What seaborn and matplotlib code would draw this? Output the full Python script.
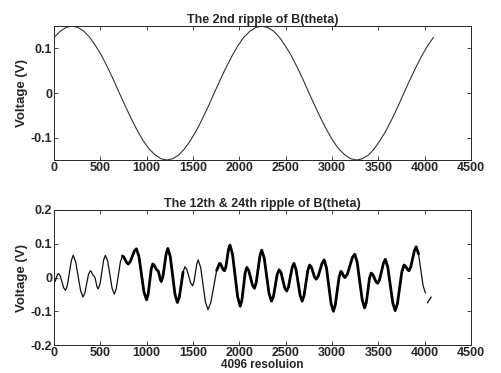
import matplotlib
matplotlib.use('Agg')
import matplotlib.pyplot as plt
import seaborn as sns
import numpy as np

# 2nd ripple, sampled every 64 steps over the 4096 resolution
x_top = list(range(0, 4097, 64))
v_top = [0.125, 0.138, 0.147, 0.150, 0.147, 0.139, 0.125, 0.106, 0.084, 0.058,
         0.030, 0.000, -0.029, -0.057, -0.083, -0.106, -0.125, -0.138, -0.147,
         -0.150, -0.147, -0.139, -0.125, -0.106, -0.084, -0.058, -0.030, 0.000,
         0.029, 0.057, 0.083, 0.106,
         0.125, 0.138, 0.147, 0.150, 0.147, 0.139, 0.125, 0.106, 0.084, 0.058,
         0.030, 0.000, -0.029, -0.057, -0.083, -0.106, -0.125, -0.138, -0.147,
         -0.150, -0.147, -0.139, -0.125, -0.106, -0.084, -0.058, -0.030, 0.000,
         0.029, 0.057, 0.083, 0.106, 0.125]

# 12th & 24th ripple
x_bot = [0, 12, 35, 46, 66, 104, 124, 144, 186, 206, 232, 286, 312, 332, 370,
         390, 400, 420, 430, 442, 464, 476, 496, 534, 554, 578, 626, 650, 672,
         716, 738, 754, 784, 800, 822, 866, 888, 916, 970, 998, 1015, 1048,
         1065, 1079, 1106, 1120, 1129, 1148, 1157, 1175, 1210, 1228, 1254,
         1305, 1331, 1352, 1392, 1413, 1434, 1474, 1495, 1510, 1540, 1555,
         1582, 1634, 1661, 1692, 1755, 1786, 1799, 1826, 1839, 1854, 1884,
         1899, 1926, 1982, 2009, 2027, 2062, 2080, 2101, 2142, 2163, 2182,
         2222, 2241, 2268, 2320, 2347, 2368, 2408, 2429, 2450, 2490, 2511,
         2530, 2570, 2589, 2611, 2656, 2678, 2698, 2739, 2759, 2777, 2812,
         2830, 2851, 2894, 2915, 2940, 2990, 3015, 3035, 3076, 3096, 3107,
         3129, 3140, 3166, 3220, 3246, 3272, 3326, 3352, 3370, 3405, 3423,
         3441, 3476, 3494, 3514, 3556, 3576, 3602, 3656, 3682, 3706, 3754,
         3778, 3791, 3818, 3831, 3850, 3890, 3909, 3934, 3984, 4009]
v_bot = [-0.015, -0.011, 0.008, 0.012, 0.005, -0.031, -0.038, -0.022, 0.050,
         0.066, 0.047, -0.039, -0.058, -0.046, 0.008, 0.020, 0.018, 0.007,
         0.005, -0.001, -0.028, -0.034, -0.019, 0.051, 0.066, 0.049, -0.032,
         -0.049, -0.032, 0.047, 0.064, 0.060, 0.044, 0.040, 0.047, 0.078,
         0.085, 0.062, -0.043, -0.066, -0.050, 0.024, 0.040, 0.037, 0.023,
         0.020, 0.015, -0.007, -0.012, 0.003, 0.071, 0.086, 0.062, -0.050,
         -0.074, -0.058, 0.016, 0.032, 0.023, -0.016, -0.025, -0.013, 0.040,
         0.052, 0.030, -0.073, -0.095, -0.074, 0.021, 0.042, 0.039, 0.023,
         0.020, 0.031, 0.085, 0.096, 0.069, -0.058, -0.085, -0.068, 0.013,
         0.030, 0.021, -0.023, -0.032, -0.015, 0.064, 0.081, 0.058, -0.047,
         -0.070, -0.056, 0.009, 0.023, 0.014, -0.031, -0.040, -0.028, 0.030,
         0.042, 0.025, -0.053, -0.070, -0.054, 0.021, 0.037, 0.031, 0.001,
         -0.005, 0.004, 0.043, 0.052, 0.029, -0.077, -0.100, -0.082, 0.000,
         0.018, 0.015, 0.003, 0.000, 0.010, 0.059, 0.069, 0.045, -0.066,
         -0.090, -0.075, -0.002, 0.013, 0.009, -0.013, -0.017, -0.006, 0.043,
         0.054, 0.031, -0.075, -0.098, -0.078, 0.017, 0.037, 0.034, 0.023,
         0.020, 0.031, 0.080, 0.091, 0.070, -0.025, -0.046]
x_tail = [4030, 4070]
v_tail = [-0.075, -0.058]

sns.set_style('ticks')
plt.rcParams['font.family'] = ['Liberation Sans', 'DejaVu Sans']
plt.rcParams['font.weight'] = 'bold'
plt.rcParams['xtick.direction'] = 'in'
plt.rcParams['ytick.direction'] = 'in'

fig = plt.figure(figsize=(5.01, 3.73), dpi=100)
ax1 = fig.add_axes([0.108, 0.571, 0.832, 0.359])
ax2 = fig.add_axes([0.108, 0.075, 0.832, 0.362])

sns.lineplot(x=x_top, y=v_top, ax=ax1, color='#333333', lw=0.8,
             estimator=None, sort=False)
ax1.set_xlim(0, 4500)
ax1.set_ylim(-0.15, 0.15)
ax1.set_yticks([-0.1, 0, 0.1])
ax1.set_yticklabels(['-0.1', '0', '0.1'])
ax1.set_title('The 2nd ripple of B(theta)', fontsize=9, fontweight='bold', pad=2)

xb = np.array(x_bot)
vb = np.array(v_bot)
sns.lineplot(x=x_bot, y=v_bot, ax=ax2, color='#111111', lw=0.9,
             estimator=None, sort=False)
# the scanned trace is heavier over these stretches
for lo, hi in [(720, 1400), (1700, 3960)]:
    m = (xb >= lo) & (xb <= hi)
    ax2.plot(xb[m], vb[m], color='#000000', lw=2.0, solid_joinstyle='round')
sns.lineplot(x=x_tail, y=v_tail, ax=ax2, color='#111111', lw=1.0,
             estimator=None, sort=False)
ax2.set_xlim(0, 4500)
ax2.set_ylim(-0.2, 0.2)
ax2.set_yticks([-0.2, -0.1, 0, 0.1, 0.2])
ax2.set_yticklabels(['-0.2', '-0.1', '0', '0.1', '0.2'])
ax2.set_title('The 12th & 24th ripple of B(theta)', fontsize=9, fontweight='bold', pad=2)
ax2.set_xlabel('4096 resoluion', fontsize=8.5, fontweight='bold', labelpad=0)

for ax in (ax1, ax2):
    ax.set_xticks(range(0, 4501, 500))
    ax.set_ylabel('Voltage (V)', fontsize=9.5, fontweight='bold', labelpad=2)
    ax.tick_params(labelsize=9, length=3, width=0.6, pad=1.5,
                   top=True, right=True)
    for s in ax.spines.values():
        s.set_linewidth(0.7)
        s.set_visible(True)
    for lab in ax.get_xticklabels() + ax.get_yticklabels():
        lab.set_fontweight('bold')

fig.savefig('out.png', dpi=100)
